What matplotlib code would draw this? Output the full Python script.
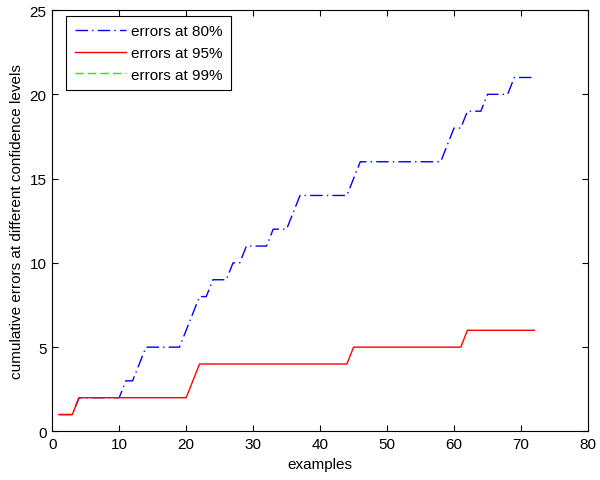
import matplotlib
matplotlib.use("Agg")
import matplotlib.pyplot as plt

examples = list(range(1, 73))

errors_80 = [1, 1, 1, 2, 2, 2, 2, 2, 2, 2,
             3, 3, 4, 5, 5, 5, 5, 5, 5, 6,
             7, 8, 8, 9, 9, 9, 10, 10, 11, 11,
             11, 11, 12, 12, 12, 13, 14, 14, 14, 14,
             14, 14, 14, 14, 15, 16, 16, 16, 16, 16,
             16, 16, 16, 16, 16, 16, 16, 16, 17, 18,
             18, 19, 19, 19, 20, 20, 20, 20, 21, 21,
             21, 21]

errors_95 = [1, 1, 1, 2, 2, 2, 2, 2, 2, 2,
             2, 2, 2, 2, 2, 2, 2, 2, 2, 2,
             3, 4, 4, 4, 4, 4, 4, 4, 4, 4,
             4, 4, 4, 4, 4, 4, 4, 4, 4, 4,
             4, 4, 4, 4, 5, 5, 5, 5, 5, 5,
             5, 5, 5, 5, 5, 5, 5, 5, 5, 5,
             5, 6, 6, 6, 6, 6, 6, 6, 6, 6,
             6, 6]

# the 99% series leaves no visible trace in the reference
examples_99 = []
errors_99 = []

labels = ["errors at 80%", "errors at 95%", "errors at 99%"]
x_ticks = [0, 10, 20, 30, 40, 50, 60, 70, 80]
y_ticks = [0, 5, 10, 15, 20, 25]

plt.rcParams['font.family'] = ['Liberation Sans', 'DejaVu Sans']

fig = plt.figure(figsize=(6.0, 4.81), dpi=100)
ax = fig.add_axes([0.087, 0.101, 0.893, 0.876])

l1, = ax.plot(examples, errors_80, color=(0, 0, 1), lw=1.0, label=labels[0])
l1.set_dashes((9, 3, 1, 3))
ax.plot(examples, errors_95, color=(1, 0, 0), lw=1.0, label=labels[1])
l3, = ax.plot(examples_99, errors_99, color=(0, 1, 0), lw=1.0, label=labels[2])
l3.set_dashes((6, 3))

ax.set_xlim(0, 80)
ax.set_ylim(0, 25)
ax.set_xticks(x_ticks)
ax.set_yticks(y_ticks)
ax.tick_params(direction='in', length=4.3, width=0.8, top=True, right=True,
               labelsize=11, pad=4)
for s in ax.spines.values():
    s.set_linewidth(0.8)

ax.set_xlabel("examples", fontsize=11, labelpad=4)
ax.set_ylabel("cumulative errors at different confidence levels", fontsize=11, labelpad=4)

leg = ax.legend(loc='upper left', bbox_to_anchor=(0.026, 0.986), borderaxespad=0,
                fontsize=11, fancybox=False, shadow=False, framealpha=1,
                edgecolor='black', handlelength=3.4, handletextpad=0.3,
                labelspacing=0.5, borderpad=0.55)
leg.get_frame().set_linewidth(0.8)

fig.savefig("out.png", dpi=100)
